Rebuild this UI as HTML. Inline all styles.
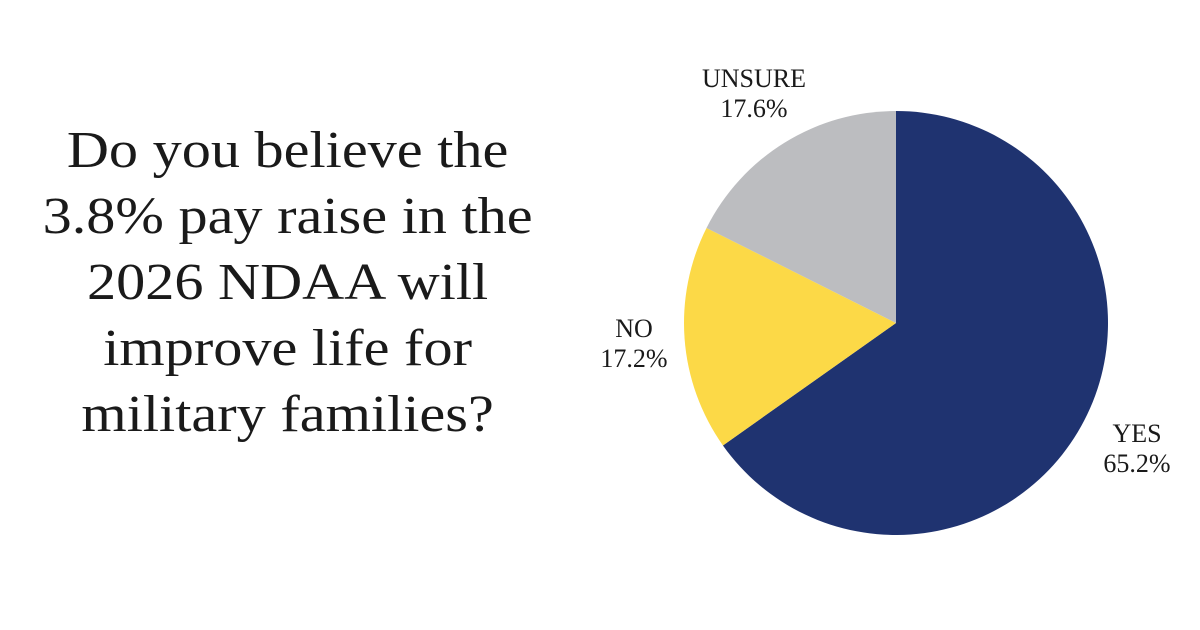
<!DOCTYPE html>
<html><head><meta charset="utf-8"><style>
html,body{margin:0;padding:0;background:#fff;}
body{width:1200px;height:630px;position:relative;overflow:hidden;font-family:"Liberation Serif",serif;}
#title{position:absolute;left:20px;width:540px;top:118px;text-align:center;font-size:52px;line-height:66px;color:#1a1a1a;transform:scaleX(1.12);transform-origin:290px 0;}
svg{position:absolute;left:0;top:0;}
</style></head><body>
<div id="title">Do you believe the<br>3.8% pay raise in the<br>2026 NDAA will<br>improve life for<br>military families?</div>
<svg id="chart" width="1200" height="630"></svg>
<script>
const categories=["YES","NO","UNSURE"];
const values=[65.2,17.2,17.6];
const labels=["65.2%","17.2%","17.6%"];
const colors=["#1f3370","#fcd947","#bcbdc0"];
const cx=896,cy=323,r=212;
const svg=document.getElementById('chart');
const NS="http://www.w3.org/2000/svg";
const total=values.reduce((a,b)=>a+b,0);
function pt(a,rr){return [cx+rr*Math.sin(a),cy-rr*Math.cos(a)];}
let a0=0;
values.forEach((v,i)=>{
  const a1=a0+v/total*2*Math.PI;
  const [x0,y0]=pt(a0,r),[x1,y1]=pt(a1,r);
  const p=document.createElementNS(NS,'path');
  p.setAttribute('d',`M${cx},${cy}L${x0},${y0}A${r},${r} 0 ${a1-a0>Math.PI?1:0} 1 ${x1},${y1}Z`);
  p.setAttribute('fill',colors[i]);
  
  
  svg.appendChild(p);
  let tx,ty;
  if(i===0){tx=1137;ty=433;}
  if(i===1){tx=634;ty=328;}
  if(i===2){tx=754;ty=78;}
  const t=document.createElementNS(NS,'text');
  t.setAttribute('x',tx);t.setAttribute('y',ty+9);
  t.setAttribute('text-anchor','middle');
  t.setAttribute('font-size','26');
  t.setAttribute('font-family','Liberation Serif, serif');
  t.setAttribute('fill','#1a1a1a');
  
  
  const s1=document.createElementNS(NS,'tspan');
  s1.setAttribute('x',tx);s1.textContent=categories[i];
  const s2=document.createElementNS(NS,'tspan');
  s2.setAttribute('x',tx);s2.setAttribute('dy','30');s2.textContent=labels[i];
  t.appendChild(s1);t.appendChild(s2);
  svg.appendChild(t);
  a0=a1;
});
</script>
</body></html>
